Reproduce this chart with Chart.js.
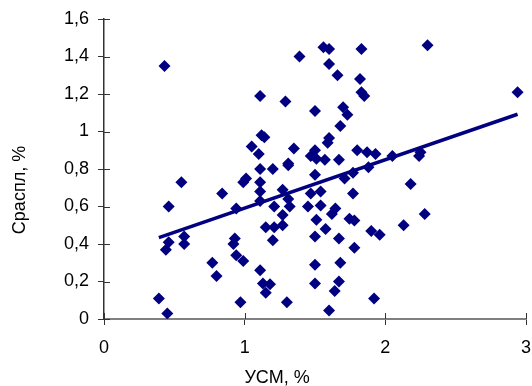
<!DOCTYPE html>
<html>
<head>
<meta charset="utf-8">
<script src="https://cdn.jsdelivr.net/npm/chart.js@4.4.1/dist/chart.umd.min.js"></script>
<style>
  html, body { margin: 0; padding: 0; background: #fff; }
  #wrap { width: 532px; height: 386px; position: relative; }
</style>
</head>
<body>
<div id="wrap"><canvas id="scatter"></canvas></div>
<script>
// УСМ, % (x) and Сраспл, % (y) for each sample
const usmValues = [
  0.43, 0.55, 0.46, 0.46, 0.44, 0.57, 0.57, 0.39, 0.45, 0.84,
  0.94, 0.93, 0.92, 0.94, 0.99, 0.77, 0.80, 0.97, 0.99, 1.01,
  1.05, 1.10, 1.11, 1.20, 1.31, 1.11, 1.11, 1.27, 1.11, 1.21,
  1.31, 1.32, 1.27, 1.15, 1.21, 1.27, 1.20, 1.11, 1.13, 1.18,
  1.15, 1.30, 1.11, 1.29, 1.12, 1.14, 1.35, 1.31, 1.39, 1.56,
  1.60, 1.83, 1.60, 1.66, 1.82, 1.83, 1.85, 1.50, 1.70, 1.73,
  1.68, 1.60, 1.59, 1.50, 1.47, 1.51, 1.57, 1.67, 1.80, 1.87,
  1.93, 2.05, 1.50, 1.71, 1.77, 1.88, 1.47, 1.54, 1.77, 1.45,
  1.54, 1.645, 1.62, 1.51, 1.745, 1.78, 1.575, 1.50, 1.67, 1.78,
  1.90, 1.96, 1.50, 1.68, 1.50, 1.67, 1.64, 1.60, 1.92, 2.30,
  2.94, 2.25, 2.24, 2.18, 2.28, 2.13
];
const crasplValues = [
  1.35, 0.73, 0.60, 0.41, 0.37, 0.44, 0.40, 0.11, 0.03, 0.67,
  0.59, 0.43, 0.40, 0.34, 0.31, 0.30, 0.23, 0.09, 0.73, 0.75,
  0.92, 0.88, 0.80, 0.80, 0.82, 0.73, 0.68, 0.69, 0.63, 0.60,
  0.64, 0.60, 0.555, 0.49, 0.49, 0.50, 0.42, 0.26, 0.19, 0.185,
  0.14, 0.09, 1.19, 1.16, 0.98, 0.97, 0.91, 0.83, 1.40, 1.45,
  1.44, 1.44, 1.36, 1.30, 1.28, 1.21, 1.19, 1.11, 1.13, 1.09,
  1.03, 0.965, 0.94, 0.90, 0.87, 0.855, 0.85, 0.85, 0.90, 0.89,
  0.88, 0.87, 0.77, 0.75, 0.78, 0.81, 0.67, 0.68, 0.67, 0.60,
  0.605, 0.59, 0.56, 0.53, 0.535, 0.525, 0.48, 0.44, 0.43, 0.38,
  0.47, 0.45, 0.29, 0.30, 0.19, 0.20, 0.15, 0.045, 0.11, 1.46,
  1.21, 0.89, 0.87, 0.72, 0.56, 0.50
];

// linear trend, drawn between its two ends
const trendX = [0.39, 2.94];
const trendY = [0.434, 1.092];

const xTickValues = [0, 1, 2, 3];
const xTickLabels = ['0', '1', '2', '3'];
const yTickValues = [0, 0.2, 0.4, 0.6, 0.8, 1, 1.2, 1.4, 1.6];
const yTickLabels = ['0', '0,2', '0,4', '0,6', '0,8', '1', '1,2', '1,4', '1,6'];

const xTitle = 'УСМ, %';
const yTitle = 'Сраспл, %';

const navy = '#000080';
const fontFamily = '"Liberation Sans", Arial, sans-serif';

function labelFor(values, labels, v) {
  const i = values.findIndex(t => Math.abs(t - v) < 1e-6);
  return i >= 0 ? labels[i] : '';
}

// ticks in this style cross the axis line, so add the inner half
const innerTicks = {
  id: 'innerTicks',
  afterDatasetsDraw(chart) {
    const { ctx, scales: { x, y } } = chart;
    ctx.save();
    ctx.strokeStyle = '#333';
    ctx.lineWidth = 1;
    y.ticks.forEach(t => {
      const py = Math.round(y.getPixelForValue(t.value)) + 0.5;
      ctx.beginPath();
      ctx.moveTo(x.left, py);
      ctx.lineTo(x.left + 6, py);
      ctx.stroke();
    });
    x.ticks.forEach(t => {
      const px = Math.round(x.getPixelForValue(t.value)) + 0.5;
      ctx.beginPath();
      ctx.moveTo(px, y.bottom);
      ctx.lineTo(px, y.bottom - 6);
      ctx.stroke();
    });
    ctx.restore();
  }
};

// axis titles, placed the way the spreadsheet put them
const axisTitles = {
  id: 'axisTitles',
  afterDraw(chart) {
    const { ctx, chartArea } = chart;
    ctx.save();
    ctx.fillStyle = '#000';
    ctx.font = '18px ' + fontFamily;
    ctx.textAlign = 'center';
    ctx.textBaseline = 'middle';
    ctx.fillText(xTitle, chartArea.left + (chartArea.right - chartArea.left) * 0.41, 378);
    ctx.translate(20, chartArea.top + (chartArea.bottom - chartArea.top) * 0.57);
    ctx.rotate(-Math.PI / 2);
    ctx.fillText(yTitle, 0, 0);
    ctx.restore();
  }
};

const points = usmValues.map((x, i) => ({ x: x, y: crasplValues[i] }));
const trend = trendX.map((x, i) => ({ x: x, y: trendY[i] }));

new Chart(document.getElementById('scatter'), {
  type: 'scatter',
  data: {
    datasets: [
      {
        data: points,
        pointStyle: 'rectRot',
        pointRadius: 6,
        pointHoverRadius: 6,
        backgroundColor: navy,
        borderColor: navy,
        borderWidth: 0
      },
      {
        type: 'line',
        data: trend,
        borderColor: navy,
        borderWidth: 3.5,
        pointRadius: 0,
        fill: false
      }
    ]
  },
  options: {
    responsive: true,
    maintainAspectRatio: false,
    animation: false,
    events: [],
    layout: { padding: { top: 19, right: 5, left: 0, bottom: 0 } },
    plugins: { legend: { display: false }, tooltip: { enabled: false } },
    scales: {
      x: {
        type: 'linear',
        min: 0,
        max: 3,
        afterBuildTicks: s => { s.ticks = xTickValues.map(v => ({ value: v })); },
        afterFit: s => { s.height = 67; s.paddingLeft = 0; s.paddingRight = 0; },
        ticks: {
          color: '#000',
          font: { size: 18, family: fontFamily },
          padding: 12,
          maxRotation: 0,
          callback: v => labelFor(xTickValues, xTickLabels, v)
        },
        grid: { drawOnChartArea: false, tickLength: 6, color: '#333', lineWidth: 1 },
        border: { color: '#808080', width: 2 }
      },
      y: {
        type: 'linear',
        min: 0,
        max: 1.6,
        afterBuildTicks: s => { s.ticks = yTickValues.map(v => ({ value: v })); },
        afterFit: s => { s.width = 104; s.paddingTop = 0; s.paddingBottom = 0; },
        ticks: {
          color: '#000',
          font: { size: 18, family: fontFamily },
          padding: 9,
          callback: v => labelFor(yTickValues, yTickLabels, v)
        },
        grid: { drawOnChartArea: false, tickLength: 6, color: '#333', lineWidth: 1 },
        border: { color: '#333', width: 1.5 }
      }
    }
  },
  plugins: [innerTicks, axisTitles]
});
</script>
</body>
</html>
